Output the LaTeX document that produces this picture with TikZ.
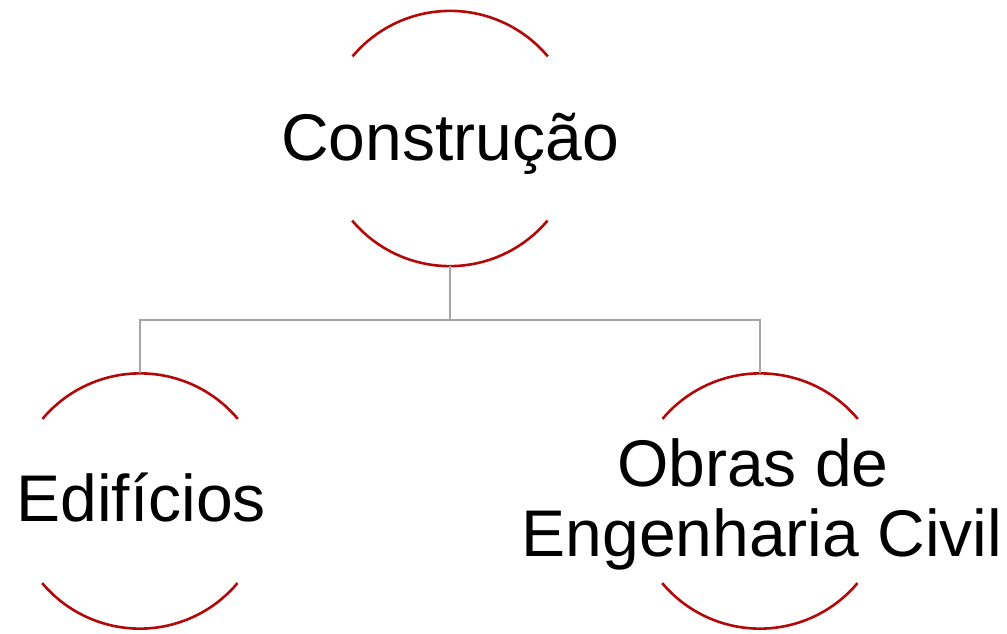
\documentclass[tikz,border=0pt]{standalone}
\usepackage{fontspec}
\newfontfamily\lblfont{Liberation Sans}
\definecolor{arcred}{RGB}{178,8,8}
\definecolor{conngray}{RGB}{166,166,166}
\begin{document}
\begin{tikzpicture}[x=1pt,y=1pt,
  ring/.style={circle,draw=none,minimum size=255pt,inner sep=0pt},
  arcline/.style={draw=arcred,line width=2.6pt},
  conn/.style={draw=conngray,line width=2.6pt},
  lbl/.style={font=\lblfont\fontsize{66}{70}\selectfont,inner sep=0pt,anchor=base,align=center}]
\useasboundingbox (0,0) rectangle (1007,-633);
% ring shapes
\node[ring] (top) at (450,-138.5) {};
\node[ring] (left) at (140,-501) {};
\node[ring] (right) at (760,-501) {};
% arcs
\foreach \n in {top,left,right}{
  \draw[arcline] (\n.40) arc[start angle=40,end angle=140,radius=127.5pt];
  \draw[arcline] (\n.220) arc[start angle=220,end angle=320,radius=127.5pt];
}
% labels
\node[lbl] (toptext) at (450,-160) {Construção};
\node[lbl] (lefttext) at (141,-521) {Edifícios};
\node[lbl] (righttext) at (762,-556) {Obras de\hphantom{\ }\\Engenharia Civil};
% connectors
\coordinate (j) at (450,-320);
\draw[conn] (top.south) -- (j) -| (left.north);
\draw[conn] (j) -| (right.north);
\end{tikzpicture}
\end{document}
